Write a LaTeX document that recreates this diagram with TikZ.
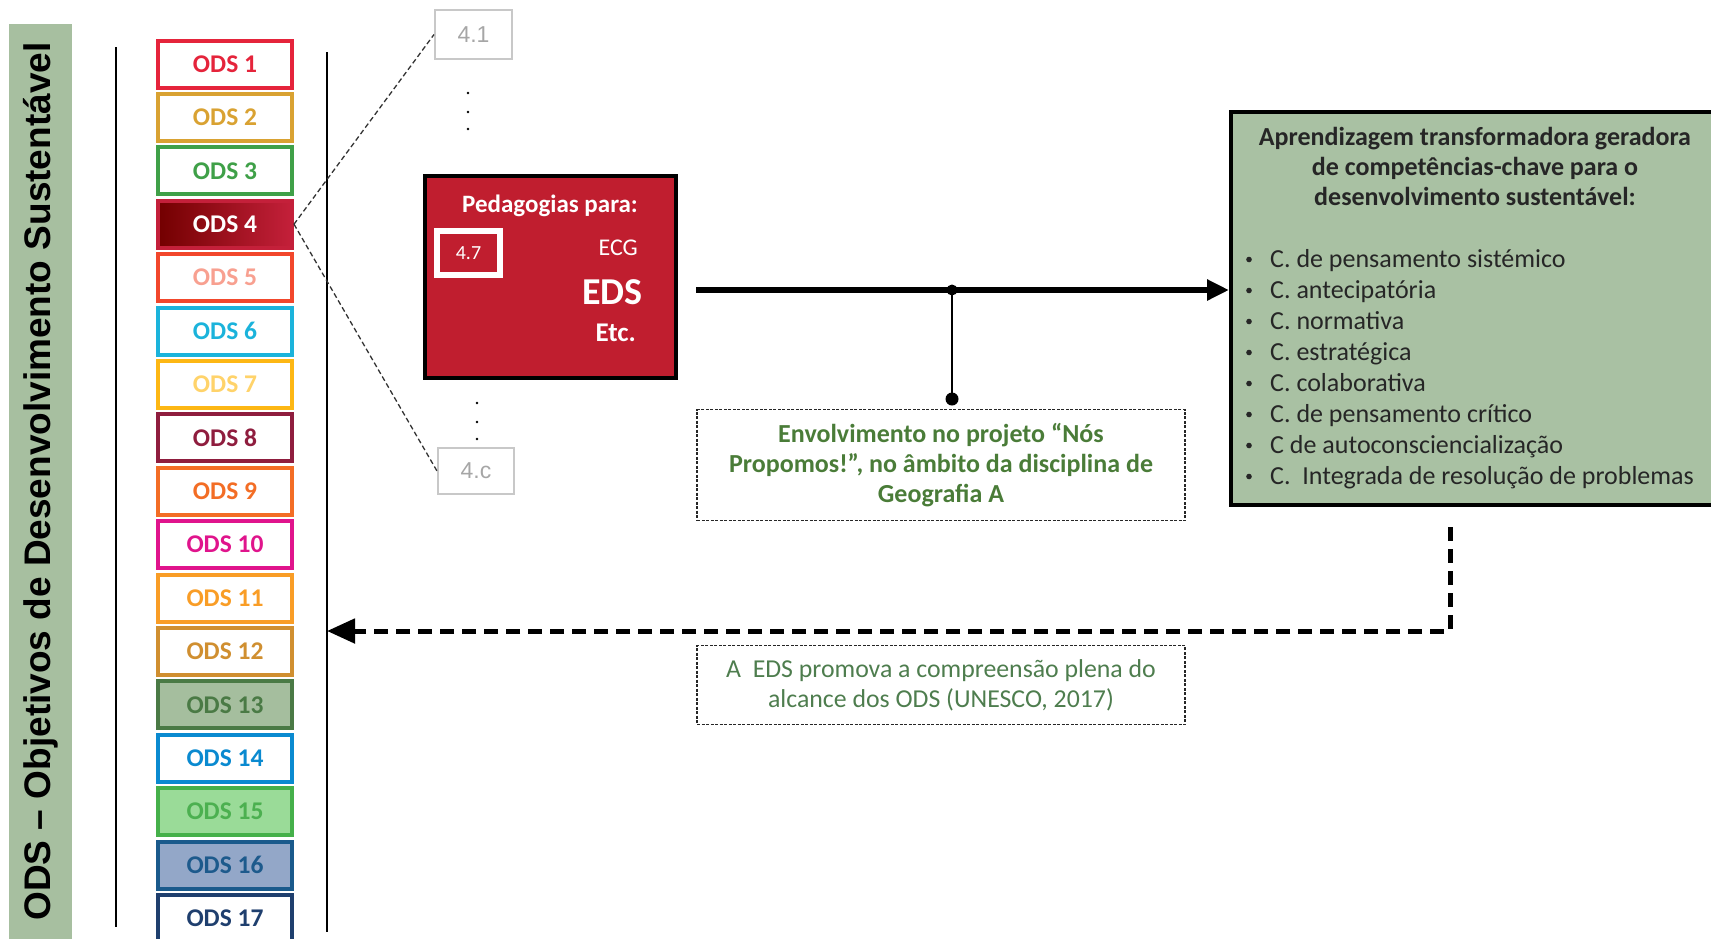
\documentclass[tikz,border=0pt]{standalone}
\usepackage{fontspec}
\setmainfont{Carlito}
\newfontfamily\arialf{Liberation Sans}
\usetikzlibrary{arrows.meta,calc}
\definecolor{bandc}{HTML}{A7BFA0}
\definecolor{gfill}{HTML}{A9C1A3}
\definecolor{redfill}{HTML}{C01E2F}
\definecolor{envtext}{HTML}{4A7C38}
\definecolor{edstext}{HTML}{4E7D4E}
\definecolor{c1}{HTML}{E5243B}
\definecolor{c2}{HTML}{D9A232}
\definecolor{c3}{HTML}{3FA048}
\definecolor{c4}{HTML}{C4203A}
\definecolor{c5}{HTML}{F2472C}
\definecolor{t5}{HTML}{F8A090}
\definecolor{c6}{HTML}{1BB3DB}
\definecolor{c7}{HTML}{FDB714}
\definecolor{t7}{HTML}{FFD36A}
\definecolor{c8}{HTML}{8F1D3E}
\definecolor{c9}{HTML}{F36D25}
\definecolor{c10}{HTML}{E0148C}
\definecolor{c11}{HTML}{F99D26}
\definecolor{c12}{HTML}{D08F30}
\definecolor{c13}{HTML}{4A7A45}
\definecolor{f13}{HTML}{A5BE9E}
\definecolor{c14}{HTML}{0A8AD0}
\definecolor{c15}{HTML}{45B04A}
\definecolor{t15}{HTML}{4CB050}
\definecolor{f15}{HTML}{9ADB98}
\definecolor{c16}{HTML}{1A5A8C}
\definecolor{t16}{HTML}{1D5A8C}
\definecolor{f16}{HTML}{93A7C8}
\definecolor{c17}{HTML}{1F3F6E}
\definecolor{subgray}{HTML}{C8C8C8}
\definecolor{subtext}{HTML}{A6A6A6}
\definecolor{listc}{HTML}{262626}
\tikzset{
  odsbox/.style={draw, line width=4pt, minimum width=134pt, minimum height=47pt, inner sep=0pt,
    font=\fontsize{25.5}{25.5}\selectfont\bfseries},
  subbox/.style={draw=subgray, line width=2pt, text=subtext, inner sep=0pt,
    font=\arialf\fontsize{23}{23}\selectfont},
  thindash/.style={draw=black!80, line width=1.3pt, dash pattern=on 5pt off 3pt},
  dashbox/.style={draw=black!85, line width=1.2pt, dash pattern=on 3pt off 1.5pt, inner sep=0pt, align=center},
  pedtext/.style={text=white, inner sep=0pt},
  listitem/.style={anchor=base west, inner sep=0pt, text=listc, font=\fontsize{26}{26}\selectfont},
}
\begin{document}
\begin{tikzpicture}[x=1pt,y=-1pt]
\useasboundingbox (0,0) rectangle (1711,938);
% side band
\node[fill=bandc, rotate=90, minimum width=915pt, minimum height=63pt, inner sep=0pt,
  font=\arialf\bfseries\fontsize{37}{37}\selectfont] (band) at (40.5,481.5)
  {ODS – Objetivos de Desenvolvimento Sustentável};
% bracket lines
\coordinate (l1) at (116,47); \coordinate (l2) at (116,927);
\coordinate (r1) at (327,52); \coordinate (r2) at (327,932);
\draw[line width=1.5pt] (l1) -- (l2);
\draw[line width=1.5pt] (r1) -- (r2);
% ODS boxes
\foreach \i/\bc/\tc/\fc in {1/c1/c1/white,2/c2/c2/white,3/c3/c3/white,5/c5/t5/white,6/c6/c6/white,7/c7/t7/white,8/c8/c8/white,9/c9/c9/white,10/c10/c10/white,11/c11/c11/white,12/c12/c12/white,13/c13/c13/f13,14/c14/c14/white,15/c15/t15/f15,16/c16/t16/f16,17/c17/c17/white}
  \node[odsbox, draw=\bc, text=\tc, fill=\fc] (ods\i) at (225,{64+53.4*(\i-1)}) {ODS \i};
\node[odsbox, draw=c4, left color=red!45!black, right color=c4, text=white] (ods4) at (225,224.2) {ODS 4};
% sub-target boxes
\node[subbox, minimum width=77pt, minimum height=49pt] (t41) at (473.5,34.5) {4.1};
\node[subbox, minimum width=76pt, minimum height=46pt] (t4c) at (476,471) {4.c};
\draw[thindash] (ods4.east) -- (t41.west);
\draw[thindash] (ods4.east) -- (t4c.west);
\foreach \yy in {93,112,129} \fill (468,\yy) circle (1.3pt);
\foreach \yy in {403,422,439} \fill (477,\yy) circle (1.3pt);
% pedagogies box
\node[draw=black, line width=4pt, fill=redfill, minimum width=251pt, minimum height=202pt, inner sep=0pt] (ped) at (550.5,277) {};
\node[pedtext, font=\bfseries\fontsize{25}{25}\selectfont] (pedt) at (550,206) {Pedagogias para:};
\node[draw=white, line width=6pt, minimum width=63pt, minimum height=44pt, inner sep=0pt, text=white,
  font=\fontsize{20}{20}\selectfont] (t47) at (468.5,253) {4.7};
\node[pedtext, anchor=east, font=\fontsize{24}{24}\selectfont] (ecg) at (638,248) {ECG};
\node[pedtext, anchor=east, font=\bfseries\fontsize{38}{38}\selectfont] (eds) at (643,292) {EDS};
\node[pedtext, anchor=east, font=\bfseries\fontsize{27}{27}\selectfont] (etc) at (636,333) {Etc.};
% green competences box
\node[draw=black, line width=4pt, fill=gfill, minimum width=490pt, minimum height=393pt, inner sep=0pt, anchor=north west] (gbox) at (1229,110) {};
\node[align=center, inner sep=0pt, text=listc, font=\bfseries\fontsize{26}{30}\selectfont] (gtitle) at (1475,166)
  {Aprendizagem transformadora geradora\\de competências-chave para o\\desenvolvimento sustentável:};
\foreach \t [count=\k] in {C. de pensamento sistémico, C. antecipatória, C. normativa, C. estratégica, C. colaborativa, C. de pensamento crítico, C de autoconsciencialização, C.\ \ Integrada de resolução de problemas}{
  \node[listitem] (li\k) at (1270,{267+31*(\k-1)}) {\t};
  \fill[listc] (1249,{259.5+31*(\k-1)}) circle (2.8pt);
}
% main arrow
\coordinate (a0) at (696,290);
\coordinate (j) at (952,290);
\coordinate (j2) at (952,399);
\draw[line width=6pt, -{Triangle[length=22pt,width=20pt]}] (a0) -- (a0 -| gbox.west);
\draw[line width=1.5pt] (j) -- (j2);
\fill (j) circle (5.5pt);
\fill (j2) circle (6.5pt);
% envolvimento box
\node[dashbox, minimum width=488pt, minimum height=111pt, text=envtext, font=\bfseries\fontsize{26}{30}\selectfont] (env) at (941,465)
  {Envolvimento no projeto “Nós\\Propomos!”, no âmbito da disciplina de\\Geografia A};
% return dashed arrow
\coordinate (rr0) at (1450,527);
\coordinate (rr1) at (327,631);
\draw[line width=5pt, dash pattern=on 14pt off 8pt, -{Triangle[length=28pt,width=24pt]}] (rr0) |- (rr1);
% EDS box
\node[dashbox, minimum width=488pt, minimum height=79pt, text=edstext, font=\fontsize{25.8}{30}\selectfont] (edsbox) at (941,685)
  {A\ \ EDS promova a compreensão plena do\\alcance dos ODS (UNESCO, 2017)};
\end{tikzpicture}
\end{document}
